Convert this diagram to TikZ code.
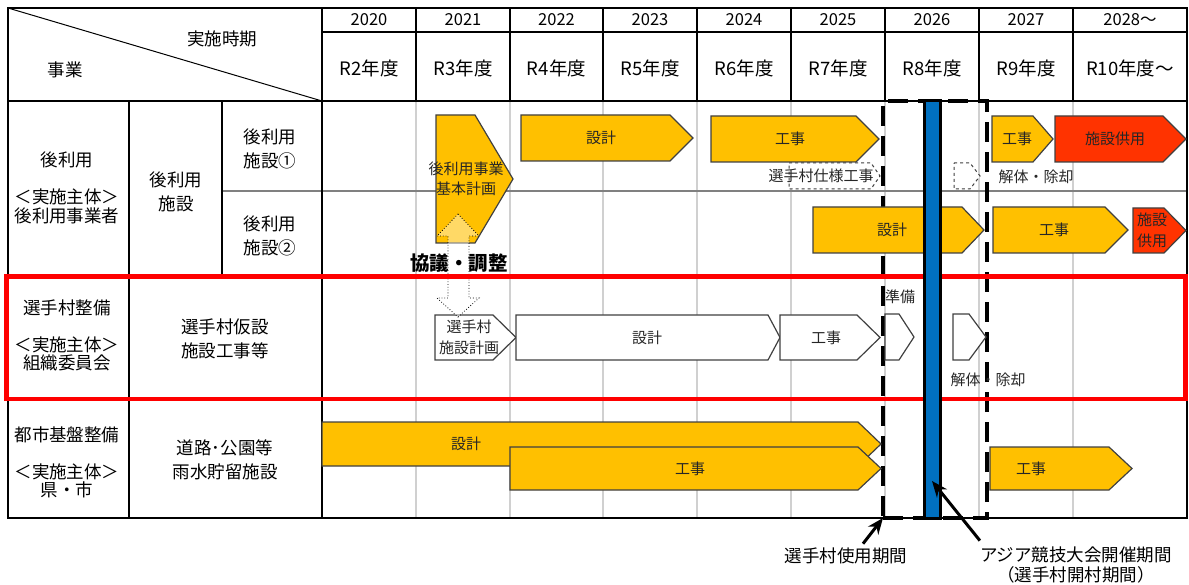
\documentclass[tikz,border=0pt]{standalone}
\usepackage{fontspec}
\setmainfont{Noto Sans CJK JP}
\usepackage{tikz}
\usetikzlibrary{arrows.meta, calc, positioning}
\usetikzlibrary{shapes}

\definecolor{barGold}{HTML}{FFC000}
\definecolor{barRed}{HTML}{FF3300}
\definecolor{lineGray}{HTML}{404040}
\definecolor{gridGray}{HTML}{D0D0D0}
\definecolor{periodBlue}{HTML}{0070C0}

% bar with pointed end: style, name, left, corner, tip, top, bottom, text x, text
\newcommand{\phasebar}[9]{%
	\draw[#1] (#3,#6) -- (#4,#6) -- (#5,{(#6+#7)/2}) -- (#4,#7) -- (#3,#7) -- cycle;
	\node[bartext] (#2) at (#8,{(#6+#7)/2}) {#9};
}

\begin{document}
\begin{tikzpicture}[x=1pt,y=-1pt,
		tbl/.style={line width=1.8pt},
		grid/.style={gridGray, line width=2.4pt},
		cell/.style={font=\fontsize{17.5}{24}\selectfont, align=center, inner sep=0pt},
		body/.style={font=\fontsize{17.5}{18.5}\selectfont, align=center, inner sep=0pt},
		yr/.style={font=\fontsize{16.5}{18}\selectfont, inner sep=0pt},
		fy/.style={font=\fontsize{18.5}{20}\selectfont, inner sep=0pt},
		bartext/.style={font=\fontsize{15}{20.5}\selectfont, text=black!85, align=center, inner sep=0pt},
		gold/.style={fill=barGold, draw=lineGray, line width=1.2pt},
		hot/.style={fill=barRed, draw=lineGray, line width=1.2pt},
		plan/.style={fill=white, draw=lineGray, line width=1.2pt},
		ghost/.style={fill=white, draw=lineGray, dashed, line width=1pt},
		usedash/.style={draw, line width=4pt, dash pattern=on 20pt off 10pt, outer sep=0pt, inner sep=0pt},
		ptr/.style={-{Stealth[length=16pt,width=13pt]}, line width=3pt}]
	\useasboundingbox (0,0) rectangle (1189,585);
	
	\foreach \x in {416,510,603,697,791,885,979,1073}
		\draw[grid] (\x,101) -- (\x,518);
	\draw[gray, line width=2.4pt] (222,191) -- (1187,191);
	
	\draw[tbl] (8,8) rectangle (1187,518);
	\draw[tbl] (322,32) -- (1187,32);
	\draw[tbl] (8,101) -- (1187,101);
	\draw[tbl] (8,276.5) -- (1187,276.5);
	\draw[tbl] (8,397.5) -- (1187,397.5);
	\draw[tbl] (129,101) -- (129,518);
	\draw[tbl] (222,101) -- (222,276.5);
	\draw[tbl] (322,8) -- (322,518);
	\foreach \x in {416,510,603,697,791,885,979,1073}
		\draw[tbl] (\x,8) -- (\x,101);
	\draw[line width=1pt] (8,8) -- (322,101);
	
	\node[body] (period) at (222,39) {実施時期};
	\node[body] (jigyo) at (65,70) {事業};
	\foreach \cx/\yr/\fy [count=\i] in {369/2020/R2年度, 463/2021/R3年度, 556.5/2022/R4年度, 650/2023/R5年度, 744/2024/R6年度, 838/2025/R7年度, 932/2026/R8年度, 1026/2027/R9年度, 1130/2028～/R10年度～}{
		\node[yr] (yr\i) at (\cx,20) {\yr};
		\node[fy] (fy\i) at (\cx,68) {\fy};
	}
	
	\node[body] (reuse) at (67,160) {後利用};
	\node[body] (reuseorg) at (67,206.5) {＜実施主体＞\\後利用事業者};
	\node[cell] (reusefac) at (176,191.5) {後利用\\施設};
	\node[cell] (fac1) at (270,148.5) {後利用\\施設①};
	\node[cell] (fac2) at (270,236) {後利用\\施設②};
	\node[body] (village) at (67,308) {選手村整備};
	\node[body] (villageorg) at (67,354) {＜実施主体＞\\組織委員会};
	\node[cell] (villagefac) at (225,338.5) {選手村仮設\\施設工事等};
	\node[body] (urban) at (67,435) {都市基盤整備};
	\node[body] (urbanorg) at (67,481) {＜実施主体＞\\県・市};
	\node[cell] (urbanfac) at (225,460) {道路･公園等\\雨水貯留施設};
	
	\node[usedash, minimum width=104pt, minimum height=417pt] (useperiod) at (935,309.5) {};
	
	\phasebar{gold}{plan1}{436}{475}{513}{115}{243}{466}{後利用事業\\基本計画}
	\phasebar{gold}{design1}{521}{670}{693}{115}{161}{601}{設計}
	\phasebar{gold}{build1}{711}{856}{879}{116}{162}{790}{工事}
	\phasebar{ghost}{spec1}{789}{871}{880}{163}{189}{821}{選手村仕様工事}
	\phasebar{ghost}{demo1}{954}{970}{980}{163}{189}{962}{}
	\node[bartext] (demolbl1) at (1036,177) {解体・除却};
	\phasebar{gold}{build1b}{992}{1033}{1053}{116}{162}{1017}{工事}
	\phasebar{hot}{open1}{1055}{1163}{1186}{116}{162}{1115}{施設供用}
	
	\phasebar{gold}{design2}{813}{962}{984}{207}{253}{892}{設計}
	\phasebar{gold}{build2}{993}{1105}{1128}{207}{253}{1054}{工事}
	\phasebar{hot}{open2}{1133}{1164}{1186}{208}{253}{1152}{施設\\供用}
	
	\phasebar{plan}{vplan}{435}{493}{516}{315}{360}{469}{選手村\\施設計画}
	\phasebar{plan}{vdesign}{516}{768}{780}{315}{360}{647}{設計}
	\phasebar{plan}{vbuild}{780}{857}{880}{315}{360}{826}{工事}
	\phasebar{plan}{vprep}{885}{899}{914}{314}{360}{899}{}
	\node[bartext] (preplbl) at (900,297) {準備};
	\phasebar{plan}{vdemo}{953}{969}{986}{314}{360}{965}{}
	\node[bartext] (demolbl2) at (988,380) {解体・除却};
	
	\phasebar{gold}{udesign}{322}{858}{881}{422}{466}{466}{設計}
	\phasebar{gold}{ubuild}{510}{858}{881}{447}{490}{690}{工事}
	\phasebar{gold}{ubuild2}{990}{1109}{1132}{447}{490}{1031}{工事}
	
	%\node (talkarrow) at (458,265) {};
	\draw[dotted, line width=0.8pt, fill=white, fill opacity=0.4] (458,214) -- (479,236) -- (469,236) -- (469,298) -- (479,298) -- (458,317) -- (437,298) -- (448,298) -- (448,236) -- (437,236) -- cycle;
	\node[font=\fontsize{19.5}{21}\selectfont\bfseries, inner sep=0pt] (talks) at (459,263) {協議・調整};
	
	\draw[red, line width=4.5pt] (6.5,276.7) rectangle (1185.5,399);
	
	\node[draw, fill=periodBlue, line width=3pt, minimum width=16pt, minimum height=417pt, inner sep=0pt, outer sep=0pt] (games) at (932.5,309.5) {};
	\coordinate (gamestip) at (932,481);
	
	\node[body] (uselbl) at (846,556) {選手村使用期間};
	\node[font=\fontsize{17.5}{20}\selectfont, align=center, inner sep=0pt] (asialbl) at (1076,565) {アジア競技大会開催期間\\（選手村開村期間）};
	\draw[ptr] ([xshift=17pt,yshift=4pt]uselbl.north) -- (useperiod.south west);
	\draw[ptr] ([yshift=6pt]asialbl.north west) -- (gamestip);
\end{tikzpicture}
\end{document}
